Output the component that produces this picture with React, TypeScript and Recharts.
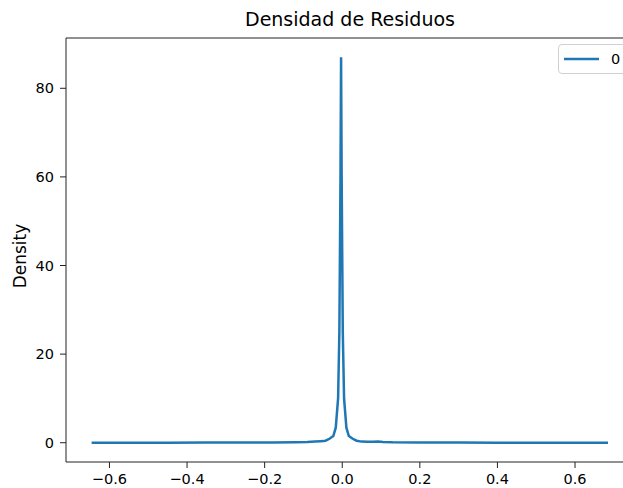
import React from 'react';
import { LineChart, Line, XAxis, YAxis, ReferenceLine } from 'recharts';

// KDE of residuals (x = residual, y = density)
const residualX = [
  -0.646, -0.55, -0.45, -0.35, -0.25, -0.18, -0.12, -0.09, -0.07, -0.055,
  -0.043, -0.033, -0.023, -0.0167, -0.0107, -0.0074, -0.0045, -0.003, -0.0015,
  0.0014, 0.0047, 0.0107, 0.017, 0.027, 0.037, 0.05, 0.065, 0.08, 0.092,
  0.105, 0.13, 0.2, 0.3, 0.4, 0.5, 0.6, 0.685,
];
const densityY = [
  0.01, 0.01, 0.02, 0.03, 0.04, 0.06, 0.1, 0.15, 0.25, 0.35,
  0.45, 0.9, 1.5, 3.4, 10, 25, 60, 87, 60,
  25, 10, 3.4, 1.5, 0.9, 0.45, 0.25, 0.2, 0.2, 0.3,
  0.15, 0.08, 0.05, 0.03, 0.02, 0.01, 0.01, 0.01,
];
const xTicks = [-0.6, -0.4, -0.2, 0, 0.2, 0.4, 0.6];
const yTicks = [0, 20, 40, 60, 80];
const seriesName = '0';

const data = residualX.map((x, i) => ({ x, density: densityY[i] }));

const fmtX = (v: number) => (v < 0 ? '\u2212' + Math.abs(v).toFixed(1) : v.toFixed(1));

const FONT = '"DejaVu Sans", sans-serif';

export default function App() {
  return (
    <div
      style={{
        position: 'absolute',
        left: 0,
        top: 0,
        width: 623,
        height: 488,
        overflow: 'hidden',
        background: 'white',
        fontFamily: FONT,
      }}
    >
      <div
        style={{
          position: 'absolute',
          left: 0,
          width: 700,
          top: 9,
          textAlign: 'center',
          fontSize: 19,
          lineHeight: '20px',
          color: '#000',
        }}
      >
        Densidad de Residuos
      </div>
      <div
        style={{
          position: 'absolute',
          left: 20,
          top: 256,
          transform: 'translate(-50%, -50%) rotate(-90deg)',
          fontSize: 17,
          lineHeight: '20px',
          whiteSpace: 'nowrap',
          color: '#000',
        }}
      >
        Density
      </div>
      <LineChart width={660} height={488} data={data} margin={{ top: 38, right: 26, left: 0, bottom: 0 }}>
        <XAxis
          dataKey="x"
          type="number"
          domain={[-0.712, 0.752]}
          ticks={xTicks}
          tickFormatter={fmtX}
          height={26}
          tickSize={6}
          tickMargin={6}
          stroke="#222"
          tick={{ fill: '#000', fontSize: 14.5, fontFamily: FONT }}
          allowDataOverflow
        />
        <YAxis
          type="number"
          domain={[-4.35, 91.35]}
          ticks={yTicks}
          width={66}
          tickSize={6}
          tickMargin={6}
          stroke="#222"
          tick={{ fill: '#000', fontSize: 14.5, fontFamily: FONT }}
          allowDataOverflow
        />
        <ReferenceLine y={91.35} stroke="#222" strokeWidth={1} />
        <Line
          type="linear"
          dataKey="density"
          name={seriesName}
          stroke="#1f77b4"
          strokeWidth={2.5}
          dot={false}
          isAnimationActive={false}
        />
      </LineChart>
      {/* legend, upper right like matplotlib's "best" spot */}
      <div
        style={{
          position: 'absolute',
          left: 558,
          top: 44,
          border: '1px solid #d0d0d0',
          borderRadius: 4,
          width: 90,
          height: 30,
          boxSizing: 'border-box',
          background: 'white',
          display: 'flex',
          alignItems: 'center',
          fontSize: 14.5,
          color: '#000',
        }}
      >
        <svg width={46} height={10} style={{ marginLeft: 4 }}>
          <line x1={1} y1={5} x2={36} y2={5} stroke="#1f77b4" strokeWidth={2.5} />
        </svg>
        <span style={{ marginLeft: 2 }}>{seriesName}</span>
      </div>
    </div>
  );
}
